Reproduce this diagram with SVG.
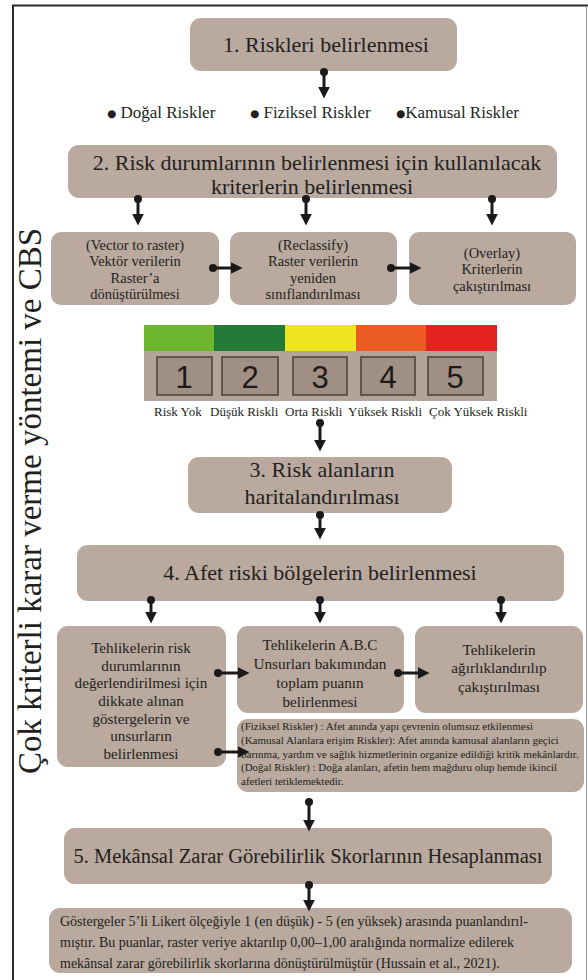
<svg xmlns="http://www.w3.org/2000/svg" width="588" height="980" viewBox="0 0 588 980" font-family="'Liberation Serif', 'Times New Roman', serif">
<defs>
<style>
.box{fill:#b9a99e;}
.t{font-family:'Liberation Serif','Times New Roman',serif;fill:#231f20;}
.c{text-anchor:middle;}
.ar{fill:none;stroke:#1a1a1a;stroke-width:3;marker-start:url(#dot);marker-end:url(#ah);}
.num{font-family:'Liberation Sans',Arial,sans-serif;font-size:31px;fill:#1e1a18;text-anchor:middle;}
.sq{fill:#a08f85;stroke:#4a3e38;stroke-width:1.5;}
.bl{font-family:'DejaVu Sans',sans-serif;font-size:10.5px;}
</style>
<marker id="ah" markerUnits="userSpaceOnUse" markerWidth="12" markerHeight="12" viewBox="0 0 10 10" refX="2" refY="5" orient="auto">
<path d="M0,0 L10,5 L0,10 z" fill="#1a1a1a"/>
</marker>
<marker id="dot" markerUnits="userSpaceOnUse" markerWidth="9" markerHeight="9" viewBox="0 0 9 9" refX="4.5" refY="4.5">
<circle cx="4.5" cy="4.5" r="4" fill="#1a1a1a"/>
</marker>
</defs>
<rect x="0" y="0" width="588" height="980" fill="#ffffff"/>
<path d="M13,981 V5.5 H588" fill="none" stroke="#2a2a2a" stroke-width="2"/>
<path d="M586.5,6 V981" fill="none" stroke="#9a9a9a" stroke-width="1"/>

<text class="t c" transform="translate(41,501) rotate(-90)" font-size="33">Çok kriterli karar verme yöntemi ve CBS</text>

<g id="n1">
<rect class="box" x="190" y="18" width="267" height="53" rx="11"/>
<text class="t c" x="326" y="52" font-size="22">1. Riskleri belirlenmesi</text>
</g>

<g id="bullets">
<text class="t" x="107" y="118" font-size="17"><tspan class="bl" dy="-1">●</tspan><tspan dy="1"> Doğal Riskler</tspan></text>
<text class="t" x="250" y="118" font-size="17"><tspan class="bl" dy="-1">●</tspan><tspan dy="1"> Fiziksel Riskler</tspan></text>
<text class="t" x="396" y="118" font-size="17"><tspan class="bl" dy="-1">●</tspan><tspan dy="1">Kamusal Riskler</tspan></text>
</g>

<g id="n2">
<rect class="box" x="68" y="145" width="489" height="53" rx="11"/>
<text class="t c" x="317" y="170" font-size="22">2. Risk durumlarının belirlenmesi için kullanılacak</text>
<text class="t c" x="312" y="194" font-size="22">kriterlerin belirlenmesi</text>
</g>

<g id="n2a">
<rect class="box" x="51" y="232" width="168" height="73" rx="10"/>
<text class="t c" font-size="14.5"><tspan x="135" y="250">(Vector to raster)</tspan><tspan x="135" y="266">Vektör verilerin</tspan><tspan x="135" y="283">Raster’a</tspan><tspan x="135" y="299">dönüştürülmesi</tspan></text>
</g>
<g id="n2b">
<rect class="box" x="230" y="232" width="167" height="73" rx="10"/>
<text class="t c" font-size="14.5"><tspan x="313" y="250">(Reclassify)</tspan><tspan x="313" y="266">Raster verilerin</tspan><tspan x="313" y="283">yeniden</tspan><tspan x="313" y="299">sınıflandırılması</tspan></text>
</g>
<g id="n2c">
<rect class="box" x="409" y="232" width="167" height="73" rx="10"/>
<text class="t c" font-size="14.5"><tspan x="492" y="258">(Overlay)</tspan><tspan x="492" y="274">Kriterlerin</tspan><tspan x="492" y="291">çakıştırılması</tspan></text>
</g>

<g id="scale">
<rect x="144" y="325" width="71" height="26" fill="#6db52d"/>
<rect x="214" y="325" width="71" height="26" fill="#237a37"/>
<rect x="285" y="325" width="71" height="26" fill="#efe420"/>
<rect x="356" y="325" width="71" height="26" fill="#ec5a24"/>
<rect x="426" y="325" width="71" height="26" fill="#e42320"/>
<rect x="144" y="351" width="353" height="50" fill="#b3a399"/>
<rect class="sq" x="157" y="357" width="55" height="38"/>
<rect class="sq" x="222" y="357" width="56" height="38"/>
<rect class="sq" x="293" y="357" width="54" height="38"/>
<rect class="sq" x="361" y="357" width="54" height="38"/>
<rect class="sq" x="428" y="357" width="55" height="38"/>
<text class="num" x="184" y="388">1</text>
<text class="num" x="250" y="388">2</text>
<text class="num" x="320" y="388">3</text>
<text class="num" x="388" y="388">4</text>
<text class="num" x="455" y="388">5</text>
<text class="t" x="154" y="416" font-size="13">Risk Yok</text>
<text class="t" x="210" y="416" font-size="13">Düşük Riskli</text>
<text class="t" x="285" y="416" font-size="13">Orta Riskli</text>
<text class="t" x="348" y="416" font-size="13">Yüksek Riskli</text>
<text class="t" x="429" y="416" font-size="13">Çok Yüksek Riskli</text>
</g>

<g id="n3">
<rect class="box" x="188" y="457" width="264" height="56" rx="11"/>
<text class="t c" x="322" y="477" font-size="22">3. Risk alanların</text>
<text class="t c" x="322" y="504" font-size="22">haritalandırılması</text>
</g>

<g id="n4">
<rect class="box" x="77" y="545" width="487" height="56" rx="11"/>
<text class="t c" x="320" y="580" font-size="22">4. Afet riski bölgelerin belirlenmesi</text>
</g>

<g id="n4a">
<rect class="box" x="57" y="626" width="169" height="141" rx="11"/>
<text class="t c" font-size="15.2"><tspan x="141" y="653">Tehlikelerin risk</tspan><tspan x="141" y="671">durumlarının</tspan><tspan x="141" y="688">değerlendirilmesi için</tspan><tspan x="141" y="706">dikkate alınan</tspan><tspan x="141" y="724">göstergelerin ve</tspan><tspan x="141" y="741">unsurların</tspan><tspan x="141" y="759">belirlenmesi</tspan></text>
</g>
<g id="n4b">
<rect class="box" x="237" y="626" width="167" height="87" rx="11"/>
<text class="t c" font-size="15.2"><tspan x="320" y="650">Tehlikelerin A.B.C</tspan><tspan x="320" y="669">Unsurları bakımından</tspan><tspan x="320" y="688">toplam puanın</tspan><tspan x="320" y="707">belirlenmesi</tspan></text>
</g>
<g id="n4c">
<rect class="box" x="415" y="626" width="168" height="87" rx="11"/>
<text class="t c" font-size="15.2"><tspan x="499" y="655">Tehlikelerin</tspan><tspan x="499" y="673">ağırlıklandırılıp</tspan><tspan x="499" y="692">çakıştırılması</tspan></text>
</g>
<g id="n4d">
<rect class="box" x="237" y="719" width="347" height="73" rx="11"/>
<text class="t" font-size="11"><tspan x="241" y="730">(Fiziksel Riskler) : Afet anında yapı  çevrenin olumsuz etkilenmesi</tspan><tspan x="241" y="744">(Kamusal  Alanlara erişim Riskler): Afet anında  kamusal alanların geçici</tspan><tspan x="241" y="758">barınma, yardım ve sağlık hizmetlerinin organize edildiği kritik mekânlardır.</tspan><tspan x="241" y="771">(Doğal Riskler) : Doğa alanları, afetin hem mağduru olup hemde ikincil</tspan><tspan x="241" y="785">afetleri  tetiklemektedir.</tspan></text>
</g>

<g id="n5">
<rect class="box" x="64" y="828" width="488" height="56" rx="11"/>
<text class="t c" x="308" y="863" font-size="20.5">5. Mekânsal Zarar Görebilirlik Skorlarının Hesaplanması</text>
</g>

<g id="n6">
<rect class="box" x="49" y="908" width="523" height="65" rx="11"/>
<text class="t" font-size="14"><tspan x="60" y="926">Göstergeler 5’li Likert ölçeğiyle 1 (en düşük) - 5 (en yüksek) arasında puanlandırıl-</tspan><tspan x="60" y="947">mıştır. Bu puanlar, raster veriye aktarılıp 0,00–1,00 aralığında normalize edilerek</tspan><tspan x="60" y="968">mekânsal zarar görebilirlik skorlarına dönüştürülmüştür (Hussain et al., 2021).</tspan></text>
</g>

<g id="connectors">
<path class="ar" d="M324,72 V89"/>
<path class="ar" d="M138,199 V216"/>
<path class="ar" d="M306,199 V216"/>
<path class="ar" d="M492,199 V216"/>
<path class="ar" d="M213,268 H233"/>
<path class="ar" d="M391,268 H412"/>
<path class="ar" d="M320,423 V442"/>
<path class="ar" d="M320,515 V530"/>
<path class="ar" d="M151,600 V614"/>
<path class="ar" d="M320,600 V614"/>
<path class="ar" d="M501,600 V614"/>
<path class="ar" d="M218,673 H240"/>
<path class="ar" d="M398,673 H420"/>
<path class="ar" d="M218,752 H240"/>
<path class="ar" d="M309,802 V822"/>
<path class="ar" d="M309,885 V902"/>
</g>
</svg>
